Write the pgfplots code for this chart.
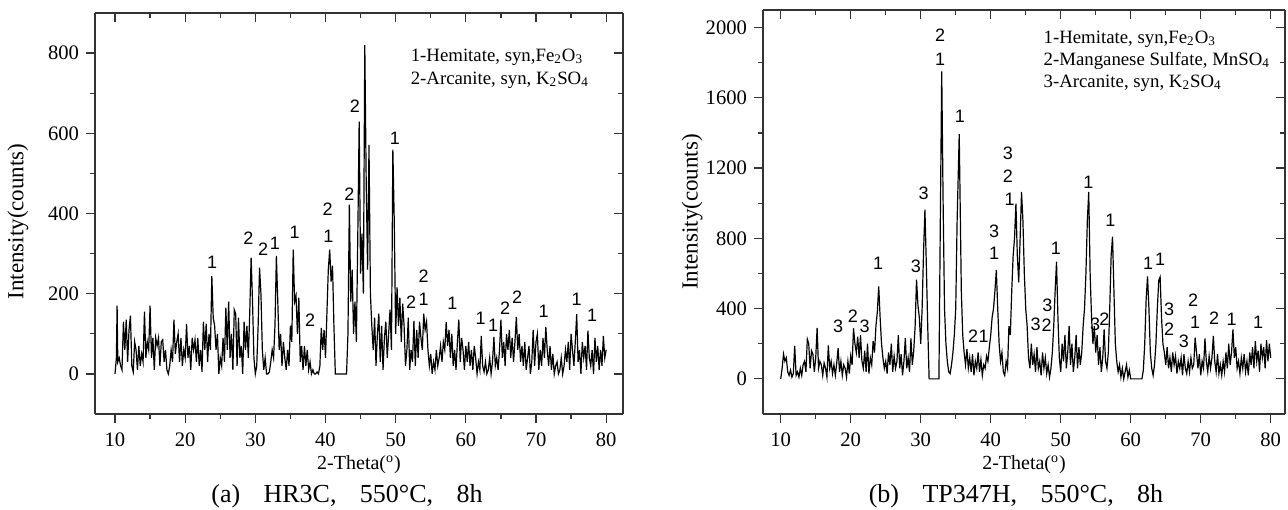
\documentclass[border=0pt]{standalone}
\usepackage{fontspec}
\setmainfont{Liberation Serif}
\newfontfamily\arial{Liberation Sans}
\usepackage{pgfplots}
\pgfplotsset{compat=1.18}

\pgfplotsset{
  xrd/.style={
    scale only axis, anchor=south west, clip=false,
    axis line style={black!80, line width=0.6pt, -},
    major tick length=4.5pt, minor tick length=2.3pt,
    every tick/.style={black!80, line width=0.6pt},
    xtick={10,20,...,80}, minor x tick num=1, minor y tick num=1,
    /pgf/number format/assume math mode=true,
    /pgf/number format/1000 sep={},
    tick label style={font=\fontsize{10.3}{12}\selectfont},
    xticklabel style={yshift=-1.5pt},
  },
  xrdframe/.style={
    xrd, axis x line*=top, axis y line*=right, tick align=inside,
    xticklabels={}, yticklabels={},
  },
  xrdmain/.style={
    xrd, axis x line*=bottom, axis y line*=left, tick align=outside,
    xlabel={2-Theta(\textsuperscript{o})},
    xlabel style={font=\fontsize{10}{12}\selectfont, anchor=center},
    ylabel={Intensity(counts)},
    ylabel style={font=\fontsize{11.5}{13}\selectfont, anchor=center},
  },
}
\tikzset{
  pk/.style={font=\arial\fontsize{9}{10}\selectfont, inner sep=0pt},
  xrdline/.style={black, line width=0.6pt},
}

\begin{document}
\begin{tikzpicture}
\path[use as bounding box] (0,0) rectangle (644pt,254.5pt);

% ---------- (a) HR3C ----------
\begin{axis}[xrdframe, at={(47.5pt,47.5pt)}, width=264pt, height=200.5pt,
  xmin=7.15, xmax=82.4, ymin=-100, ymax=900, ytick={0,200,...,800}]
\end{axis}
\begin{axis}[xrdmain, at={(47.5pt,47.5pt)}, width=264pt, height=200.5pt,
  xmin=7.15, xmax=82.4, ymin=-100, ymax=900, ytick={0,200,...,800},
  xlabel style={at={(axis description cs:0.5,-0.127)}},
  ylabel style={at={(axis description cs:-0.146,0.48)}}]
\addplot[xrdline] coordinates {
(10.0,0)(10.2,40)(10.3,170)(10.4,30)(10.6,40)(10.8,20)(11.0,10)(11.2,130)(11.4,60)(11.6,135)
(11.8,30)(12.0,110)(12.2,145)(12.4,20)(12.6,5)(12.8,80)(13.0,60)(13.2,10)(13.4,70)(13.6,20)
(13.8,50)(14.0,30)(14.2,155)(14.4,40)(14.6,80)(14.8,60)(15.0,170)(15.2,40)(15.4,90)(15.6,10)
(15.8,90)(16.0,70)(16.2,90)(16.4,20)(16.6,80)(16.8,85)(17.0,30)(17.2,60)(17.4,10)(17.6,0)
(17.8,20)(18.0,60)(18.2,30)(18.4,135)(18.6,50)(18.8,80)(19.0,100)(19.2,30)(19.4,90)(19.6,20)
(19.8,60)(20.0,40)(20.2,125)(20.4,40)(20.6,70)(20.8,10)(21.0,90)(21.2,60)(21.4,85)(21.6,30)
(21.8,90)(22.0,20)(22.2,60)(22.4,5)(22.6,130)(22.8,60)(23.0,125)(23.2,30)(23.4,100)(23.6,60)
(23.8,244)(24.0,140)(24.2,120)(24.4,60)(24.6,100)(24.8,0)(25.0,40)(25.2,20)(25.4,90)(25.6,30)
(25.8,165)(26.0,60)(26.2,180)(26.4,40)(26.6,100)(26.8,10)(27.0,160)(27.2,150)(27.4,20)(27.6,140)
(27.8,40)(28.0,70)(28.2,0)(28.4,130)(28.6,60)(28.8,120)(29.0,40)(29.2,150)(29.4,290)(29.6,180)
(29.8,40)(30.0,0)(30.2,20)(30.4,120)(30.6,265)(30.8,200)(31.0,60)(31.2,10)(31.4,40)(31.6,0)
(31.8,0)(32.0,5)(32.2,30)(32.4,60)(32.6,40)(32.8,120)(33.0,294)(33.2,180)(33.4,60)(33.6,100)
(33.8,20)(34.0,80)(34.2,40)(34.4,10)(34.6,60)(34.8,20)(35.0,120)(35.2,80)(35.4,310)(35.6,180)
(35.8,195)(36.0,100)(36.2,190)(36.4,30)(36.6,70)(36.8,10)(37.0,70)(37.2,20)(37.4,60)(37.6,10)
(37.8,30)(38.0,0)(38.2,10)(38.4,0)(38.6,0)(38.8,5)(39.0,0)(39.2,20)(39.4,115)(39.6,60)
(39.8,110)(40.0,40)(40.2,150)(40.4,260)(40.6,310)(40.8,230)(41.0,270)(41.2,120)(41.4,0)(43.0,0)
(43.2,100)(43.4,422)(43.6,180)(43.8,260)(44.0,100)(44.2,180)(44.4,80)(44.6,340)(44.8,629)(45.0,250)
(45.2,350)(45.4,200)(45.6,820)(45.8,480)(46.0,260)(46.2,571)(46.4,200)(46.6,120)(46.8,60)(47.0,140)
(47.2,20)(47.4,100)(47.6,150)(47.8,30)(48.0,120)(48.2,10)(48.4,90)(48.6,130)(48.8,40)(49.0,100)
(49.2,160)(49.4,60)(49.6,559)(49.8,380)(50.0,100)(50.2,216)(50.4,120)(50.6,190)(50.8,80)(51.0,175)
(51.2,120)(51.4,20)(51.6,60)(51.8,140)(52.0,10)(52.2,60)(52.4,30)(52.6,132)(52.8,20)(53.0,110)
(53.2,40)(53.4,130)(53.6,90)(53.8,60)(54.0,150)(54.2,110)(54.4,130)(54.6,60)(54.8,20)(55.0,50)
(55.2,0)(55.4,30)(55.6,10)(55.8,60)(56.0,20)(56.2,40)(56.4,70)(56.6,30)(56.8,80)(57.0,60)
(57.2,129)(57.4,70)(57.6,110)(57.8,40)(58.0,100)(58.2,20)(58.4,60)(58.6,10)(58.8,80)(59.0,135)
(59.2,30)(59.4,90)(59.6,60)(59.8,10)(60.0,70)(60.2,30)(60.4,80)(60.6,20)(60.8,60)(61.0,10)
(61.2,70)(61.4,40)(61.6,0)(61.8,30)(62.0,10)(62.2,95)(62.4,20)(62.6,5)(62.8,30)(63.0,0)
(63.2,10)(63.4,40)(63.6,0)(63.8,30)(64.0,92)(64.2,20)(64.4,40)(64.6,10)(64.8,60)(65.0,135)
(65.2,40)(65.4,80)(65.6,20)(65.8,100)(66.0,60)(66.2,110)(66.4,40)(66.6,90)(66.8,30)(67.0,80)
(67.2,142)(67.4,60)(67.6,100)(67.8,30)(68.0,70)(68.2,20)(68.4,80)(68.6,10)(68.8,40)(69.0,70)
(69.2,0)(69.4,30)(69.6,110)(69.8,20)(70.0,80)(70.2,100)(70.4,10)(70.6,60)(70.8,20)(71.0,90)
(71.2,40)(71.4,117)(71.6,60)(71.8,20)(72.0,70)(72.2,10)(72.4,50)(72.6,0)(72.8,20)(73.0,30)
(73.2,0)(73.4,10)(73.6,40)(73.8,0)(74.0,20)(74.2,60)(74.4,30)(74.6,80)(74.8,10)(75.0,100)
(75.2,60)(75.4,20)(75.6,80)(75.8,149)(76.0,30)(76.2,60)(76.4,0)(76.6,80)(76.8,40)(77.0,70)
(77.2,10)(77.4,108)(77.6,40)(77.8,20)(78.0,60)(78.2,0)(78.4,90)(78.6,30)(78.8,70)(79.0,10)
(79.2,60)(79.4,20)(79.6,95)(79.8,40)(80.0,60)
};
\node[pk] at (axis cs:23.85,279) {1};
\node[pk] at (axis cs:29.0,339) {2};
\node[pk] at (axis cs:31.1,311) {2};
\node[pk] at (axis cs:32.8,326) {1};
\node[pk] at (axis cs:35.6,353) {1};
\node[pk] at (axis cs:37.8,133) {2};
\node[pk] at (axis cs:40.4,344) {1};
\node[pk] at (axis cs:40.3,410) {2};
\node[pk] at (axis cs:43.4,447) {2};
\node[pk] at (axis cs:44.2,667) {2};
\node[pk] at (axis cs:49.9,588) {1};
\node[pk] at (axis cs:52.2,178) {2};
\node[pk] at (axis cs:54.0,244) {2};
\node[pk] at (axis cs:54.0,185) {1};
\node[pk] at (axis cs:58.1,176) {1};
\node[pk] at (axis cs:62.1,138) {1};
\node[pk] at (axis cs:63.9,120) {1};
\node[pk] at (axis cs:65.6,163) {2};
\node[pk] at (axis cs:67.3,190) {2};
\node[pk] at (axis cs:71.1,157) {1};
\node[pk] at (axis cs:75.8,186) {1};
\node[pk] at (axis cs:78.0,147) {1};
\node[anchor=north west, align=left, inner sep=0pt, font=\fontsize{9.4}{11.5}\selectfont]
  at (axis cs:52.1,812) {1-Hemitate, syn,Fe\textsubscript{2}O\textsubscript{3}\\
  2-Arcanite, syn, K\textsubscript{2}SO\textsubscript{4}};
\end{axis}

% ---------- (b) TP347H ----------
\begin{axis}[xrdframe, at={(381.5pt,47.5pt)}, width=261pt, height=202pt,
  xmin=7.47, xmax=82.04, ymin=-200, ymax=2100, ytick={0,400,...,2000}]
\end{axis}
\begin{axis}[xrdmain, at={(381.5pt,47.5pt)}, width=261pt, height=202pt,
  xmin=7.47, xmax=82.04, ymin=-200, ymax=2100, ytick={0,400,...,2000},
  xlabel style={at={(axis description cs:0.5,-0.126)}},
  ylabel style={at={(axis description cs:-0.136,0.5)}}]
\addplot[xrdline] coordinates {
(10.0,0)(10.2,60)(10.4,141)(10.6,100)(10.8,120)(11.0,40)(11.2,20)(11.4,50)(11.6,10)(11.8,30)
(12.0,188)(12.2,20)(12.4,40)(12.6,10)(12.8,60)(13.0,20)(13.2,80)(13.4,100)(13.6,40)(13.8,226)
(14.0,200)(14.2,60)(14.4,160)(14.6,140)(14.8,40)(15.0,120)(15.2,290)(15.4,60)(15.6,100)(15.8,80)
(16.0,20)(16.2,90)(16.4,60)(16.6,10)(16.8,190)(17.0,60)(17.2,100)(17.4,30)(17.6,80)(17.8,20)
(18.0,90)(18.2,175)(18.4,40)(18.6,100)(18.8,20)(19.0,80)(19.2,60)(19.4,10)(19.6,100)(19.8,30)
(20.0,130)(20.2,80)(20.4,288)(20.6,200)(20.8,150)(21.0,240)(21.2,120)(21.4,249)(21.6,100)(21.8,60)
(22.0,160)(22.2,40)(22.4,200)(22.6,30)(22.8,120)(23.0,80)(23.2,215)(23.4,150)(23.6,300)(23.8,380)
(24.0,527)(24.2,350)(24.4,200)(24.6,120)(24.8,60)(25.0,100)(25.2,30)(25.4,150)(25.6,80)(25.8,200)
(26.0,40)(26.2,130)(26.4,60)(26.6,100)(26.8,249)(27.0,60)(27.2,140)(27.4,20)(27.6,100)(27.8,232)
(28.0,60)(28.2,120)(28.4,40)(28.6,230)(28.8,80)(29.0,160)(29.2,300)(29.4,565)(29.6,420)(29.8,350)
(30.0,200)(30.2,400)(30.4,720)(30.6,964)(30.8,650)(31.0,300)(31.2,0)(32.6,0)(32.8,900)(33.0,1751)
(33.2,1000)(33.4,400)(33.6,200)(33.8,100)(34.0,40)(34.2,30)(34.4,80)(34.6,150)(34.8,250)(35.0,400)
(35.2,900)(35.5,1394)(35.8,500)(36.0,250)(36.2,150)(36.4,80)(36.6,170)(36.8,60)(37.0,120)(37.2,40)
(37.4,140)(37.6,20)(37.8,100)(38.0,60)(38.2,150)(38.4,40)(38.6,110)(38.8,20)(39.0,80)(39.2,60)
(39.4,130)(39.6,100)(39.8,180)(40.0,250)(40.2,350)(40.4,400)(40.6,500)(40.8,621)(41.0,400)(41.2,200)
(41.4,100)(41.6,150)(41.8,40)(42.0,20)(42.2,100)(42.4,60)(42.6,300)(42.8,250)(43.0,500)(43.2,700)
(43.4,800)(43.6,998)(43.8,700)(44.0,550)(44.2,800)(44.4,1064)(44.6,900)(44.8,600)(45.0,400)(45.2,301)
(45.4,120)(45.6,60)(45.8,200)(46.0,80)(46.2,140)(46.4,40)(46.6,180)(46.8,60)(47.0,100)(47.2,20)
(47.4,150)(47.6,60)(47.8,120)(48.0,30)(48.2,80)(48.4,10)(48.6,60)(48.8,150)(49.0,300)(49.2,500)
(49.4,667)(49.6,350)(49.8,120)(50.0,40)(50.2,200)(50.4,100)(50.6,250)(50.8,60)(51.0,150)(51.2,301)
(51.4,80)(51.6,200)(51.8,40)(52.0,120)(52.2,250)(52.4,60)(52.6,180)(52.8,80)(53.0,150)(53.2,300)
(53.4,400)(53.6,600)(53.8,900)(54.0,1064)(54.2,600)(54.4,350)(54.6,200)(54.8,300)(55.0,150)(55.2,250)
(55.4,80)(55.6,180)(55.8,40)(56.0,120)(56.2,282)(56.4,100)(56.6,60)(56.8,150)(57.0,400)(57.2,700)
(57.4,810)(57.6,500)(57.8,200)(58.0,100)(58.2,40)(58.4,80)(58.6,10)(58.8,60)(59.0,0)(59.2,40)
(59.4,80)(59.6,10)(59.8,50)(60.0,0)(61.6,0)(61.8,50)(62.0,200)(62.2,450)(62.4,584)(62.6,400)
(62.8,150)(63.0,60)(63.2,20)(63.4,80)(63.6,200)(63.8,400)(64.0,560)(64.2,580)(64.4,350)(64.6,200)
(64.8,150)(65.0,80)(65.2,180)(65.4,60)(65.6,120)(65.8,40)(66.0,150)(66.2,80)(66.4,130)(66.6,30)
(66.8,100)(67.0,60)(67.2,120)(67.4,20)(67.6,140)(67.8,60)(68.0,30)(68.2,100)(68.4,40)(68.6,120)
(68.8,60)(69.0,80)(69.2,235)(69.4,150)(69.6,60)(69.8,140)(70.0,20)(70.2,100)(70.4,60)(70.6,230)
(70.8,100)(71.0,40)(71.2,130)(71.4,60)(71.6,120)(71.8,245)(72.0,100)(72.2,40)(72.4,140)(72.6,30)
(72.8,80)(73.0,20)(73.2,100)(73.4,40)(73.6,150)(73.8,60)(74.0,200)(74.2,80)(74.4,150)(74.6,282)
(74.8,120)(75.0,180)(75.2,60)(75.4,100)(75.6,30)(75.8,120)(76.0,60)(76.2,140)(76.4,40)(76.6,100)
(76.8,20)(77.0,150)(77.2,80)(77.4,180)(77.6,60)(77.8,215)(78.0,100)(78.2,160)(78.4,40)(78.6,200)
(78.8,120)(79.0,180)(79.2,60)(79.4,220)(79.6,100)(79.8,200)(80.0,120)
};
\node[pk] at (axis cs:18.2,301) {3};
\node[pk] at (axis cs:20.3,354) {2};
\node[pk] at (axis cs:22.0,297) {3};
\node[pk] at (axis cs:23.9,659) {1};
\node[pk] at (axis cs:29.3,642) {3};
\node[pk] at (axis cs:30.4,1055) {3};
\node[pk] at (axis cs:32.76,1958) {2};
\node[pk] at (axis cs:32.76,1817) {1};
\node[pk] at (axis cs:35.6,1497) {1};
\node[pk] at (axis cs:37.5,245) {2};
\node[pk] at (axis cs:39.0,245) {1};
\node[pk] at (axis cs:40.5,842) {3};
\node[pk] at (axis cs:40.5,716) {1};
\node[pk] at (axis cs:42.45,1283) {3};
\node[pk] at (axis cs:42.45,1155) {2};
\node[pk] at (axis cs:42.7,1024) {1};
\node[pk] at (axis cs:46.4,308) {3};
\node[pk] at (axis cs:48.0,308) {2};
\node[pk] at (axis cs:48.1,418) {3};
\node[pk] at (axis cs:49.3,744) {1};
\node[pk] at (axis cs:53.95,1120) {1};
\node[pk] at (axis cs:54.9,311) {3};
\node[pk] at (axis cs:56.25,340) {2};
\node[pk] at (axis cs:57.1,904) {1};
\node[pk] at (axis cs:62.5,659) {1};
\node[pk] at (axis cs:64.2,678) {1};
\node[pk] at (axis cs:65.5,395) {3};
\node[pk] at (axis cs:65.5,282) {2};
\node[pk] at (axis cs:67.6,216) {3};
\node[pk] at (axis cs:68.9,448) {2};
\node[pk] at (axis cs:69.2,320) {1};
\node[pk] at (axis cs:71.9,348) {2};
\node[pk] at (axis cs:74.4,339) {1};
\node[pk] at (axis cs:78.2,324) {1};
\node[anchor=north west, align=left, inner sep=0pt, font=\fontsize{9.4}{11}\selectfont]
  at (axis cs:47.5,1985) {1-Hemitate, syn,Fe\textsubscript{2}O\textsubscript{3}\\
  2-Manganese Sulfate, MnSO\textsubscript{4}\\
  3-Arcanite, syn, K\textsubscript{2}SO\textsubscript{4}};
\end{axis}

\node[font=\fontsize{13}{15}\selectfont] at (173.5pt,6.5pt)
  {(a)\hspace{0.9em}HR3C,\hspace{0.9em}550\textdegree C,\hspace{0.9em}8h};
\node[font=\fontsize{13}{15}\selectfont] at (508pt,6.5pt)
  {(b)\hspace{0.9em}TP347H,\hspace{0.9em}550\textdegree C,\hspace{0.9em}8h};
\end{tikzpicture}
\end{document}
